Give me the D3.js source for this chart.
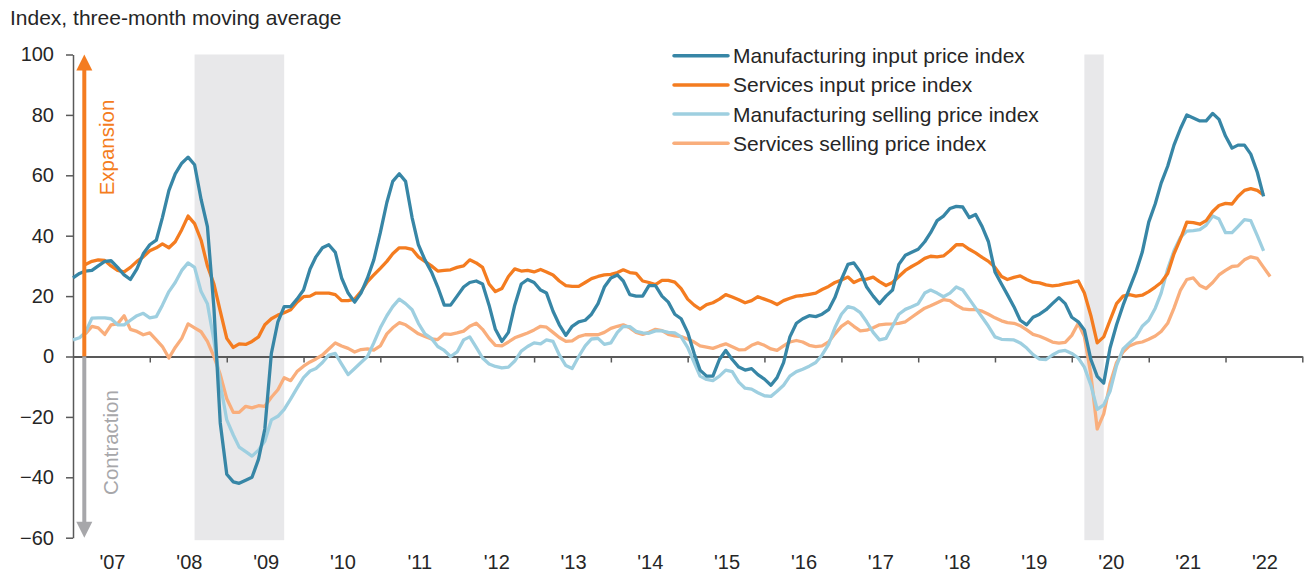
<!DOCTYPE html>
<html>
<head>
<meta charset="utf-8">
<script src="https://cdn.jsdelivr.net/npm/d3@7"></script>
<style>
  body { margin: 0; background: #fff; }
  svg text { font-family: "Liberation Sans", Arial, sans-serif; fill: #262626; }
</style>
</head>
<body>
<script>
// chart size
var w = 1307;
var h = 573;

// series (monthly, three-month moving average)
var seriesNames = ["Manufacturing input price index", "Services input price index",
                   "Manufacturing selling price index", "Services selling price index"];
var seriesStart = ["2007-01", "2007-03", "2007-01", "2007-03"];

var mfgInput = [
  26, 27.5, 28.3, 28.5, 30, 31.5, 31.7, 29.5, 27, 25.5, 29, 34,
  37, 38.5, 46, 55, 60.5, 64, 66, 63.5, 52, 43, 16, -22,
  -39, -41.5, -42, -41, -40, -34, -24, 1, 11.5, 16.5, 16.5, 19,
  22, 29, 33, 36, 37, 34.5, 26, 21, 18, 21, 26, 32,
  41, 51, 58, 60.5, 58, 46, 37, 32, 28, 23, 17, 17,
  20, 23, 24.5, 25, 24, 17, 9, 5, 8, 17, 24, 25.5,
  24.5, 22, 21, 15, 10.5, 7, 10, 11.5, 12, 14, 17.5, 23,
  26, 27, 25, 20.5, 20, 20, 23.5, 23.5, 20, 18, 14, 12.5,
  8, 1, -4.5, -6.5, -6.5, -1, 2, -1, -3.5, -4.5, -4, -6,
  -7.5, -9.5, -7, -2, 6.5, 11, 12.5, 13.5, 13.2, 14, 15.5, 19.5,
  25.5, 30.5, 31, 28, 23, 20, 17.5, 20, 22, 30.5, 33.5, 34.5,
  35.5, 38, 41, 45, 46.5, 49, 49.7, 49.5, 46, 47, 43, 38,
  28, 24, 20.5, 16.5, 12, 10.5, 13, 14, 15.5, 17.5, 19.5, 17.5,
  13, 11.5, 8.8, -1, -6.6, -8.8, 2.8, 10.5, 17, 22.5, 28, 34.5,
  44.5, 50.6, 57.4, 63, 70, 75.5, 80, 79, 78, 78, 80.5, 78.5,
  73, 69, 70, 70, 67, 61, 53
];

var svcInput = [
  30.5, 31.5, 32, 31.8, 30, 28.5, 28, 29.5, 31.5, 33,
  35, 36, 37.3, 36, 38, 42, 46.5, 44, 38.5, 30, 24, 15,
  6, 3, 4.2, 4, 5, 6.5, 10.5, 12.5, 13.7, 14.5, 15.5, 18,
  19.8, 20, 21, 21, 21, 20.5, 18.5, 18.5, 19, 21.5, 24.8, 27,
  29.2, 31.5, 34, 36, 36, 35.5, 33, 31.5, 30, 28.3, 28.5, 28.7,
  29.5, 30, 32, 31, 29.5, 24, 21.5, 22.5, 26.5, 29, 28.3, 28.5,
  28, 28.8, 28, 27, 25, 23.5, 23.2, 23.2, 24.5, 25.8, 26.5, 27,
  27.2, 27.8, 28.7, 27.8, 27.5, 25, 24.5, 23.8, 25.2, 25.2, 24.6, 22.5,
  19, 17, 15.7, 17.2, 17.8, 19, 20.5, 19.7, 18.8, 17.8, 18.5, 19.8,
  19, 18.2, 17.2, 18.5, 19.3, 20, 20.2, 20.6, 21, 22.2, 23.2, 24.5,
  25.3, 26.3, 24.5, 25.5, 25.6, 26.3, 24.8, 23.5, 24.5, 26.5, 28.5, 29.8,
  31, 32.5, 33.2, 33, 33.3, 35, 37, 37, 35.5, 34.3, 32.8, 31.5,
  29.5, 26.5, 25.5, 26.2, 26.7, 25.5, 24.6, 24.4, 23.7, 23.4, 23.6, 24.1,
  24.5, 25, 21, 13.5, 4.5, 6.5, 12, 17.5, 20, 20.5, 20, 20.3,
  21.5, 23, 24.5, 27.5, 34, 39, 44.5, 44.3, 43.8, 45, 48, 50,
  50.7, 50.5, 53, 55, 55.6, 55, 53.5
];

var mfgSelling = [
  5.5, 6.2, 8, 12.7, 12.8, 12.8, 12.5, 10.5, 10.5, 12, 13.5, 14.3,
  12.8, 13.2, 17, 21.5, 24.5, 28.5, 31, 29.5, 21.5, 17.5, 5.3, -9,
  -21, -26, -30, -31.5, -33, -31, -28, -21, -19.8, -17.5, -14, -10.5,
  -7, -4.8, -4, -2, 0.5, 1, -2.5, -6, -4, -2, 0, 4.5,
  9.5, 13.5, 16.5, 19, 17.5, 15.5, 11, 7.5, 6, 3.3, 2, 0,
  1.5, 5.5, 6.5, 3, -0.5, -2.5, -3.3, -3.8, -3.5, -1.5, 1.8, 3.3,
  4.5, 4.2, 5.5, 5, 0.5, -3, -4, 0, 3.5, 5.8, 6, 4,
  4.5, 8, 10, 9.9, 8.3, 7.8, 7.7, 8.5, 8.5, 8, 7.8, 6.5,
  3, -2, -6.5, -7.6, -8, -6.5, -4.5, -5, -8.5, -10.5, -10.8, -12,
  -13, -13.2, -11.5, -9.5, -6.5, -5, -4.2, -3.2, -2, 0.5, 4, 9.5,
  14, 16.5, 16, 14.5, 11.5, 8, 5.5, 6, 10, 14, 15.6, 16.5,
  17.5, 21, 22, 21, 19.8, 21, 23, 22, 19, 16, 13, 10,
  6.5, 5.7, 5.6, 5.5, 4.5, 2.8, 0.6, -0.9, -1, 0.5, 1.7, 2,
  1, -0.5, -3.5, -9.5, -17.5, -16, -11.5, -3, 2.5, 4.5, 6.5, 10,
  12, 16, 21, 29, 35, 39.5, 41.5, 41.7, 42, 43.5, 46.5, 45.5,
  41, 41, 43, 45.3, 45, 40, 35
];

var svcSelling = [
  7.5, 10, 9.5, 7.3, 10.5, 10.8, 13.5, 9, 8.3, 7.2,
  7.8, 5.5, 3.3, -0.5, 3, 6, 10.8, 9.5, 8.2, 5, 0, -6,
  -14, -18.5, -18.5, -16.5, -17, -16.3, -16.5, -13.5, -11, -7, -8, -5,
  -3.2, -1.8, -0.8, 0.5, 2.5, 4.5, 3.5, 2.7, 1.5, 2.3, 2.5, 2.1,
  3.5, 7.5, 9.5, 11.2, 10.5, 9, 7.5, 6.6, 5.8, 5.6, 7.5, 7.3,
  7.8, 8.4, 10, 11, 9, 6, 3.7, 3.5, 4.8, 6.2, 7, 7.8,
  8.8, 10, 9.7, 8, 6.3, 5, 5.2, 6.6, 7.2, 7.2, 7.2, 8,
  9.3, 10, 10.5, 9.5, 8, 7.3, 8, 9, 8.6, 7.3, 6.8, 6.6,
  5.8, 4.8, 3.5, 3.1, 2.7, 3.5, 4.2, 3.2, 2.2, 2.3, 3.7, 4.5,
  3.7, 2.5, 2, 3.5, 4.8, 5.3, 4.8, 3.7, 3.3, 3.5, 4.8, 7.5,
  10, 11.5, 10, 8.5, 8.7, 9.5, 10.5, 10.7, 10.8, 11, 11.5, 13,
  14.5, 16, 16.8, 17.8, 18.8, 18.5, 17, 15.8, 15.5, 15.5, 15, 14,
  12.8, 11.8, 11.2, 11, 10.2, 8.8, 7.3, 6.7, 5.8, 4.8, 4.4, 4.7,
  7, 11, 6.6, -6, -24, -19, -9, -2, 1.5, 3.5, 4.4, 4.8,
  5.7, 6.8, 8.3, 11, 16, 22, 25.5, 26, 23.5, 22.5, 24.5, 27,
  28.5, 29.8, 30, 32, 33, 32.5, 29.5, 26.5
];

var seriesColors = ["#3786a6", "#f47c20", "#9ecfe0", "#f9ae7c"];

// recession shading (start, end)
var recessions = [["2008-08", "2009-10"], ["2020-03", "2020-06"]];

// axis values
var yTicks = [-60, -40, -20, 0, 20, 40, 60, 80, 100];
var yearLabels = ["'07", "'08", "'09", "'10", "'11", "'12", "'13", "'14",
                  "'15", "'16", "'17", "'18", "'19", "'20", "'21", "'22"];
var firstYear = 2007;

// plot area
var plotLeft = 73;
var plotRight = 1302.3;
var plotTop = 54.5;
var plotBottom = 537.7;

var parseMonth = d3.timeParse("%Y-%m");

window.onload = function() {

  var svg = d3.select("body")
              .append("svg")
              .attr("width", w)
              .attr("height", h);

  var xScale = d3.scaleTime()
                 .domain([new Date(firstYear, 0, 1), new Date(firstYear + yearLabels.length, 0, 1)])
                 .range([plotLeft, plotRight]);

  var yScale = d3.scaleLinear()
                 .domain([-60, 100])
                 .range([plotBottom, plotTop]);

  // grey recession bands
  svg.selectAll("rect.recession")
     .data(recessions)
     .enter()
     .append("rect")
     .attr("class", "recession")
     .attr("x", function(d) { return xScale(parseMonth(d[0])); })
     .attr("width", function(d) { return xScale(parseMonth(d[1])) - xScale(parseMonth(d[0])); })
     .attr("y", plotTop)
     .attr("height", plotBottom + 2.5 - plotTop)
     .attr("fill", "#e8e8ea");

  // y axis
  var yAxis = d3.axisLeft(yScale)
                .tickValues(yTicks)
                .tickSize(7)
                .tickSizeOuter(0)
                .tickPadding(12)
                .tickFormat(d3.format("d"));

  var gy = svg.append("g")
              .attr("transform", "translate(" + plotLeft + ",0)")
              .call(yAxis);
  gy.selectAll("text").style("font-size", "20px").attr("fill", "#262626");
  gy.selectAll("line, path").attr("stroke", "#595959").attr("stroke-width", 1.5);

  // zero line with year ticks
  var years = d3.range(1, yearLabels.length + 1).map(function(i) {
    return new Date(firstYear + i, 0, 1);
  });
  var zeroAxis = d3.axisBottom(xScale)
                   .tickValues(years)
                   .tickSize(6)
                   .tickSizeOuter(0)
                   .tickFormat("");
  var gz = svg.append("g")
              .attr("transform", "translate(0," + yScale(0) + ")")
              .call(zeroAxis);
  gz.select("path").attr("stroke", "#595959").attr("stroke-width", 2);
  gz.selectAll("line").attr("stroke", "#595959").attr("stroke-width", 1.5);

  // year labels in the middle of each year
  var mids = yearLabels.map(function(d, i) { return new Date(firstYear + i, 6, 5); });
  var labelAxis = d3.axisBottom(xScale)
                    .tickValues(mids)
                    .tickSize(0)
                    .tickPadding(3)
                    .tickFormat(function(d, i) { return yearLabels[i]; });
  var gl = svg.append("g")
              .attr("transform", "translate(0,552)")
              .call(labelAxis);
  gl.select("path").remove();
  gl.selectAll("text").style("font-size", "20px").attr("fill", "#262626");

  // lines
  var allSeries = [mfgInput, svcInput, mfgSelling, svcSelling];
  var line = d3.line()
               .x(function(d) { return xScale(d.date); })
               .y(function(d) { return yScale(d.value); });

  var drawOrder = [3, 2, 1, 0];
  drawOrder.forEach(function(s) {
    var start = parseMonth(seriesStart[s]);
    var points = allSeries[s].map(function(v, i) {
      return {date: d3.timeMonth.offset(start, i), value: v};
    });
    svg.append("path")
       .datum(points)
       .attr("d", line)
       .attr("fill", "none")
       .attr("stroke", seriesColors[s])
       .attr("stroke-width", 3.3)
       .attr("stroke-linejoin", "round");
  });

  // expansion / contraction arrows
  var arrowX = 84.3;
  svg.append("line")
     .attr("x1", arrowX).attr("x2", arrowX)
     .attr("y1", yScale(0)).attr("y2", plotTop + 14)
     .attr("stroke", "#f47c20").attr("stroke-width", 4);
  svg.append("path")
     .attr("d", "M" + (arrowX - 8) + "," + (plotTop + 16) + "L" + arrowX + "," + plotTop + "L" + (arrowX + 8) + "," + (plotTop + 16) + "Z")
     .attr("fill", "#f47c20");
  svg.append("line")
     .attr("x1", arrowX).attr("x2", arrowX)
     .attr("y1", yScale(0)).attr("y2", plotBottom - 14)
     .attr("stroke", "#a7a7aa").attr("stroke-width", 4);
  svg.append("path")
     .attr("d", "M" + (arrowX - 8) + "," + (plotBottom - 16) + "L" + arrowX + "," + plotBottom + "L" + (arrowX + 8) + "," + (plotBottom - 16) + "Z")
     .attr("fill", "#a7a7aa");

  svg.append("text")
     .attr("transform", "translate(114,147.5) rotate(-90)")
     .attr("text-anchor", "middle")
     .style("font-size", "20.5px")
     .style("fill", "#f47c20")
     .text("Expansion");

  svg.append("text")
     .attr("transform", "translate(118,442.5) rotate(-90)")
     .attr("text-anchor", "middle")
     .style("font-size", "20.5px")
     .style("fill", "#a7a7aa")
     .text("Contraction");

  // title
  svg.append("text")
     .attr("x", 10)
     .attr("y", 25)
     .style("font-size", "21px")
     .text("Index, three-month moving average");

  // legend
  var legend = svg.selectAll("g.legend")
                  .data(seriesNames)
                  .enter()
                  .append("g")
                  .attr("class", "legend")
                  .attr("transform", function(d, i) { return "translate(674," + (55.7 + i * 29.2) + ")"; });
  legend.append("line")
        .attr("x1", 0).attr("x2", 54)
        .attr("stroke", function(d, i) { return seriesColors[i]; })
        .attr("stroke-width", 3.5)
        .attr("stroke-linecap", "round");
  legend.append("text")
        .attr("x", 59)
        .attr("y", 7.5)
        .style("font-size", "21px")
        .text(function(d) { return d; });
};
</script>
</body>
</html>
